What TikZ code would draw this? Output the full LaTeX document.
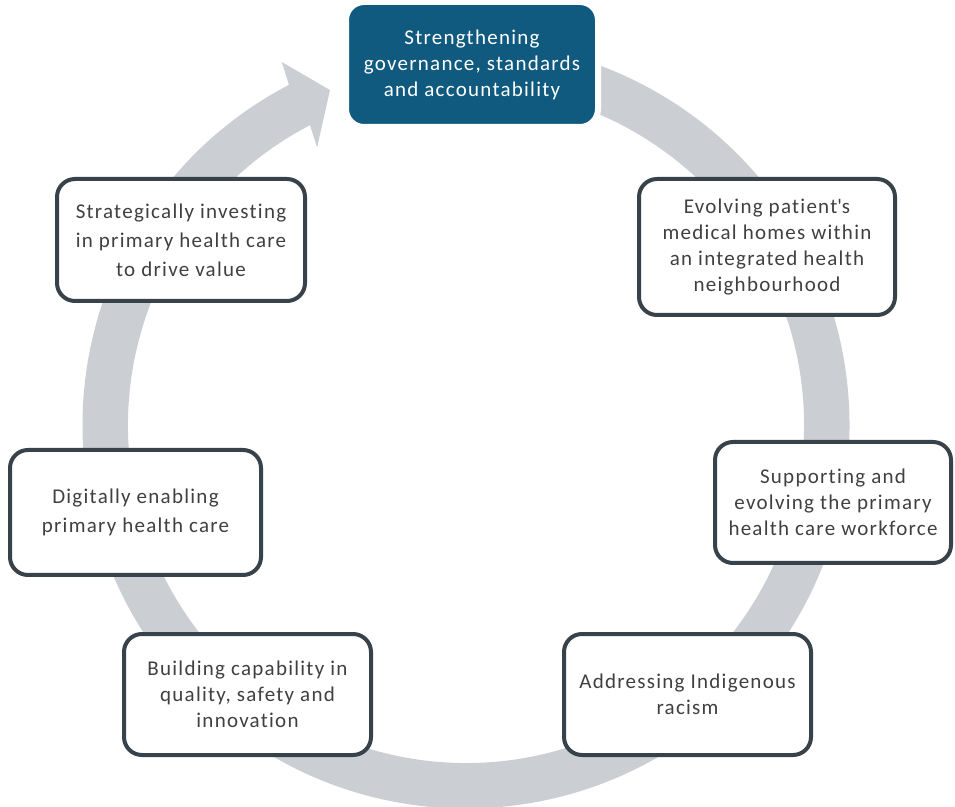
\documentclass[tikz,border=0pt]{standalone}
\usepackage{fontspec}
\setmainfont{Carlito}[LetterSpace=6, Ligatures={NoCommon}]
\usetikzlibrary{calc}
\definecolor{ringgray}{RGB}{203,207,211}
\definecolor{topblue}{RGB}{16,90,128}
\definecolor{boxline}{RGB}{55,66,74}
\definecolor{boxtext}{RGB}{64,64,64}
\tikzset{
  stagebox/.style={draw=boxline, line width=4pt, fill=white, rounded corners=18pt,
    align=center, text=boxtext, font=\fontsize{21}{26}\selectfont, inner sep=0pt},
  topbox/.style={draw=white, line width=6pt, fill=topblue, rounded corners=18pt,
    align=center, text=white, font=\fontsize{21}{26}\selectfont, inner sep=0pt},
}
\begin{document}
\begin{tikzpicture}[x=1pt,y=1pt]
\useasboundingbox (0,0) rectangle (955,806);
\clip (0,0) rectangle (955,806);
\coordinate (C) at (466,381);
% circular arrow
\fill[ringgray] ($(C)+(95:383.5)$) arc[start angle=95, end angle=-242.5, radius=383.5]
  -- ($(C)+(-243.1:407)$) -- ($(C)+(-247.9:361.5)$) -- ($(C)+(-241.8:315)$)
  -- ($(C)+(-242.5:338)$) arc[start angle=-242.5, end angle=95, radius=338] -- cycle;
% boxes
\node[topbox, minimum width=252pt, minimum height=125pt] (gov) at (472,741.5)
  {Strengthening\\governance, standards\\and accountability};
\node[stagebox, minimum width=256pt, minimum height=136pt] (pmh) at (767,559)
  {Evolving patient\textquotesingle s\\medical homes within\\an integrated health\\neighbourhood};
\node[stagebox, minimum width=236pt, minimum height=121pt] (work) at (833,303.5)
  {Supporting and\\evolving the primary\\health care workforce};
\node[stagebox, minimum width=247pt, minimum height=121pt] (ind) at (687.5,111.5)
  {Addressing Indigenous\\racism};
\node[stagebox, minimum width=247pt, minimum height=121pt] (qual) at (247.5,111.5)
  {Building capability in\\quality, safety and\\innovation};
\node[stagebox, minimum width=251pt, minimum height=125pt, font=\fontsize{21}{29}\selectfont] (dig) at (135.5,293.5)
  {Digitally enabling\\primary health care};
\node[stagebox, minimum width=248pt, minimum height=122pt, font=\fontsize{21}{29}\selectfont] (inv) at (181,566)
  {Strategically investing\\in primary health care\\to drive value};
\end{tikzpicture}
\end{document}
